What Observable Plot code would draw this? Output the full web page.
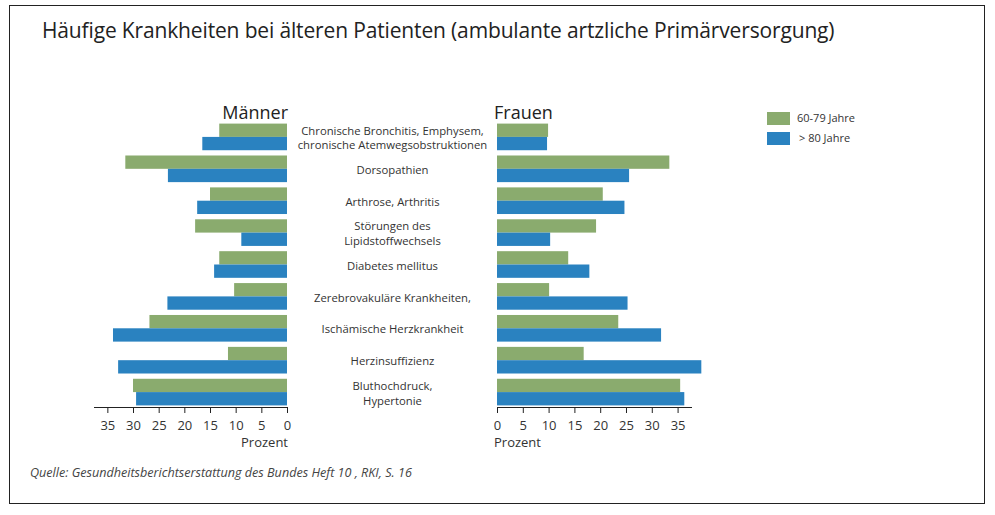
<!DOCTYPE html>
<html><head><meta charset="utf-8">
<script src="https://cdn.jsdelivr.net/npm/d3@7"></script>
<script src="https://cdn.jsdelivr.net/npm/@observablehq/plot@0.6"></script>
<style>
body{margin:0;background:#fff;font-family:"Open Sans",sans-serif;color:#222;}
#wrap{position:relative;width:995px;height:515px;overflow:hidden;}
.abs{position:absolute;white-space:nowrap;}
#frame{left:9px;top:5px;width:974px;height:497px;border:1px solid #222;}
#title{left:42px;top:16px;font-size:21px;letter-spacing:-0.15px;color:#222;}
.gtitle{top:100px;font-size:18px;color:#222;}
.sw{width:23px;height:13px;}
.lg{font-size:11px;color:#333;}
.pz{font-size:13px;color:#333;top:433px;}
#caption{left:30px;top:464px;font-size:12.6px;font-style:italic;color:#444;}
</style></head><body><div id="wrap">
<div id="frame" class="abs"></div>
<div id="title" class="abs">Häufige Krankheiten bei älteren Patienten (ambulante artzliche Primärversorgung)</div>
<div class="abs gtitle" style="right:707px;">Männer</div>
<div class="abs gtitle" style="left:494px;">Frauen</div>
<div class="abs pz" style="right:707px;">Prozent</div>
<div class="abs pz" style="left:494px;">Prozent</div>
<div id="legend"></div>
<div id="caption" class="abs">Quelle: Gesundheitsberichtserstattung des Bundes Heft 10 , RKI, S. 16</div>
<div id="left" class="abs" style="left:0;top:0;"></div>
<div id="right" class="abs" style="left:295px;top:0;"></div>
</div>
<script>
const categories = [
  "Chronische Bronchitis, Emphysem,\nchronische Atemwegsobstruktionen",
  "Dorsopathien",
  "Arthrose, Arthritis",
  "Störungen des\nLipidstoffwechsels",
  "Diabetes mellitus",
  "Zerebrovakuläre Krankheiten,",
  "Ischämische Herzkrankheit",
  "Herzinsuffizienz",
  "Bluthochdruck,\nHypertonie"
];
const groups = ["60-79 Jahre", "> 80 Jahre"];
const maenner6079 = [13.2, 31.5, 15.0, 17.9, 13.2, 10.3, 26.8, 11.5, 30.0];
const maenner80   = [16.5, 23.2, 17.5, 8.9, 14.2, 23.3, 33.9, 32.9, 29.4];
const frauen6079  = [9.9, 33.4, 20.5, 19.2, 13.8, 10.1, 23.5, 16.8, 35.5];
const frauen80    = [9.7, 25.6, 24.7, 10.3, 17.9, 25.3, 31.8, 39.6, 36.3];
const xTicks = [0, 5, 10, 15, 20, 25, 30, 35];
const xMax = 37.6;
const colors = ["#8aab6e", "#2a82c0"];

function rows(a, b) {
  return categories.flatMap((c, i) => [
    {cat: c, group: groups[0], value: a[i]},
    {cat: c, group: groups[1], value: b[i]}
  ]);
}

const H = 440, top0 = 122, bottom0 = 407;
const pi = 0.165, po = 0.05;
const step = (bottom0 - top0) / (categories.length - pi + 2 * po);
const bw = step * (1 - pi);

function panel(data, {reverse, width, marginLeft, marginRight, labels}) {
  const green = data.filter(d => d.group === groups[0]);
  const blue = data.filter(d => d.group === groups[1]);
  const marks = [
    Plot.barX(green, {y: "cat", x: "value", fill: colors[0], insetBottom: bw / 2, insetTop: 0}),
    Plot.barX(blue, {y: "cat", x: "value", fill: colors[1], insetTop: bw / 2, insetBottom: 0}),
    Plot.frame({anchor: "bottom", stroke: "#222"}),
    Plot.axisX({ticks: xTicks, tickSize: 6, tickPadding: 7, fontSize: 13, fill: "#333", stroke: "#222", label: null, tickFormat: d => String(d)})
  ];
  if (labels) {
    marks.push(Plot.text(categories, {y: d => d, x: 0, dx: -105, text: d => d, textAnchor: "middle", fontSize: 11.3, fill: "#333", lineHeight: 1.3}));
  }
  return Plot.plot({
    width, height: H, marginTop: top0, marginBottom: H - bottom0, marginLeft, marginRight,
    style: {background: "transparent", overflow: "visible", fontFamily: "Open Sans, sans-serif"},
    x: {domain: [0, xMax], reverse, label: null},
    y: {domain: categories, paddingInner: pi, paddingOuter: po, round: false, label: null, axis: null},
    marks
  });
}

document.getElementById("left").append(panel(rows(maenner6079, maenner80), {reverse: true, width: 300, marginLeft: 94, marginRight: 13, labels: false}));
document.getElementById("right").append(panel(rows(frauen6079, frauen80), {reverse: false, width: 425, marginLeft: 202, marginRight: 29, labels: true}));

const lg = document.getElementById("legend");
groups.forEach((g, i) => {
  const s = document.createElement("div");
  s.className = "abs sw";
  s.style.left = "767px"; s.style.top = (112 + i * 20) + "px"; s.style.background = colors[i];
  lg.append(s);
  const t = document.createElement("div");
  t.className = "abs lg";
  t.style.left = (i === 0 ? 797 : 799) + "px"; t.style.top = (110 + i * 20) + "px";
  t.textContent = g;
  lg.append(t);
});
</script>
</body></html>
